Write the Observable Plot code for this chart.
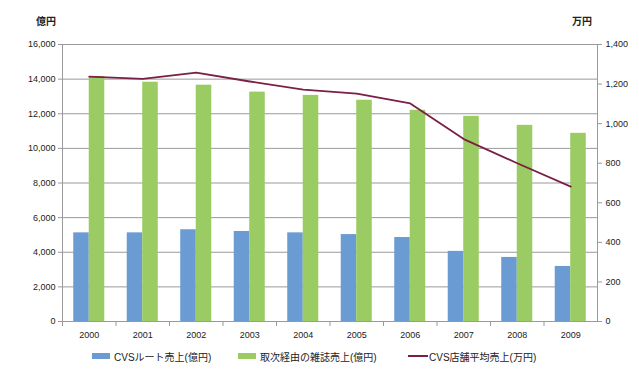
<!DOCTYPE html>
<html><head><meta charset="utf-8">
<script src="https://cdn.jsdelivr.net/npm/d3@7"></script>
<script src="https://cdn.jsdelivr.net/npm/@observablehq/plot@0.6"></script>
<style>
body{margin:0;background:#fff;font-family:"Liberation Sans","Noto Sans CJK JP",sans-serif;}
#wrap{position:relative;width:639px;height:373px;}
.unit{position:absolute;top:13px;font:bold 10px "Noto Sans CJK JP",sans-serif;color:#222;}
.leg{position:absolute;top:349px;font:10px "Liberation Sans","Noto Sans CJK JP",sans-serif;color:#222;display:flex;align-items:center;height:14px;white-space:nowrap;}
.sw{display:inline-block;width:18px;height:6px;margin-right:4px;}
.ln{display:inline-block;width:20px;height:2px;margin-right:1px;}
</style></head>
<body><div id="wrap"></div>
<script>
const years = ["2000","2001","2002","2003","2004","2005","2006","2007","2008","2009"];
const cvsRoute = [5120, 5120, 5300, 5200, 5120, 5020, 4850, 4050, 3700, 3180];
const magazine = [14150, 13820, 13650, 13250, 13060, 12780, 12200, 11850, 11330, 10870];
const storeAvg = [1238, 1226, 1258, 1213, 1172, 1152, 1102, 922, 800, 682];
const leftTicks = [0,2000,4000,6000,8000,10000,12000,14000,16000];
const rightTicks = [0,200,400,600,800,1000,1200,1400];
const seriesNames = ["CVSルート売上(億円)","取次経由の雑誌売上(億円)","CVS店舗平均売上(万円)"];
const colors = ["#6a9bd3","#9bcb63","#7a1f45"];

const ratio = 16000/1400;
const rows = years.map((y,i)=>({year:y, a:cvsRoute[i], b:magazine[i], c:storeAvg[i]*ratio}));
const fmt = d3.format(",");
const grid = "#9a9a9a";

const chart = Plot.plot({
  width: 639, height: 345,
  marginLeft: 62, marginRight: 42, marginTop: 44, marginBottom: 24,
  style: {fontFamily: "Liberation Sans, sans-serif", fontSize: "9px", color: "#222"},
  x: {domain: years, paddingInner: 0.42, paddingOuter: 0.21, round: false, axis: null},
  y: {domain: [0,16000], axis: null},
  marks: [
    Plot.ruleY(leftTicks.filter(d=>d>0), {stroke: grid, strokeWidth: 1}),
    Plot.barY(rows, {x: "year", y: "a", fill: colors[0], insetRight: 15.5}),
    Plot.barY(rows, {x: "year", y: "b", fill: colors[1], insetLeft: 15.5}),
    Plot.line(rows, {x: "year", y: "c", stroke: colors[2], strokeWidth: 1.8}),
    Plot.ruleY([0], {stroke: grid}),
    Plot.frame({anchor: "left", stroke: grid}),
    Plot.frame({anchor: "right", stroke: grid}),
    Plot.ruleX(years, {x: d=>d, dx: -26.75, y1: 0, y2: 0, insetBottom: -5, stroke: grid}),
    Plot.axisY(leftTicks, {anchor: "left", tickSize: 4, tickPadding: 3, stroke: grid, tickFormat: fmt, fontSize: 9, label: null}),
    Plot.axisY(rightTicks.map(v=>v*ratio), {anchor: "right", tickSize: 4, tickPadding: 4, stroke: grid, tickFormat: d=>fmt(Math.round(d/ratio)), fontSize: 9, label: null}),
    Plot.axisX(years, {anchor: "bottom", tickSize: 0, tickPadding: 10, fontSize: 9, label: null})
  ]
});
const wrap = document.getElementById("wrap");
wrap.appendChild(chart);
chart.style.position = "absolute"; chart.style.left = "0"; chart.style.top = "0";

function add(html, cls, left){ const d=document.createElement("div"); d.className=cls; d.style.left=left+"px"; d.innerHTML=html; wrap.appendChild(d); }
add("億円","unit",36);
add("万円","unit",572);
add(`<span class="sw" style="background:${colors[0]}"></span>${seriesNames[0]}`,"leg",92);
add(`<span class="sw" style="background:${colors[1]}"></span>${seriesNames[1]}`,"leg",238);
add(`<span class="ln" style="background:${colors[2]}"></span>${seriesNames[2]}`,"leg",408);
</script></body></html>
